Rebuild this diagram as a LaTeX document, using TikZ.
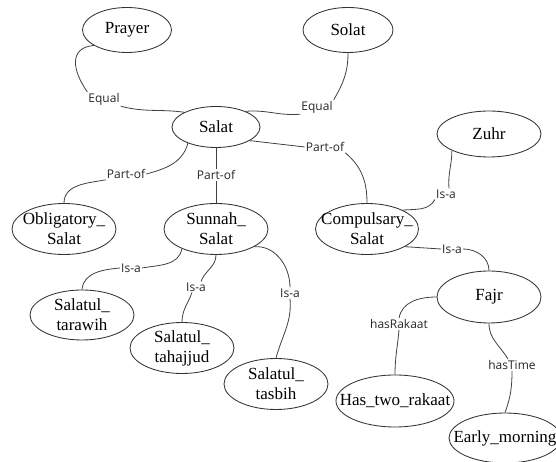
\documentclass[tikz,border=0pt]{standalone}
\usepackage{fontspec}
\setmainfont{Liberation Serif}
\newfontfamily\relfont{Open Sans}
\usetikzlibrary{shapes.geometric}

\begin{document}
\begin{tikzpicture}[x=1pt,y=1pt,
  concept/.style={ellipse,draw=black!80,line width=0.85pt,inner sep=-20pt,
    minimum width=104pt,minimum height=51pt,align=center,
    font=\fontsize{17}{20}\selectfont},
  rel/.style={inner sep=1pt,font=\relfont\fontsize{12}{13}\selectfont,text=black!85},
  link/.style={draw=black!75,line width=0.8pt}]
\useasboundingbox (0,0) rectangle (556,462);
% concepts
\node[concept,minimum width=89pt,minimum height=45pt] (prayer) at (127,432) {Prayer};
\node[concept,minimum width=90pt,minimum height=45pt] (solat) at (348,432) {Solat};
\node[concept,minimum width=88pt,minimum height=41pt] (salat) at (216,335) {Salat};
\node[concept,minimum height=46pt] (zuhr) at (489,328) {Zuhr};
\node[concept] (oblig) at (64,233) {Obligatory\_\\Salat};
\node[concept] (sunnah) at (216,233) {Sunnah\_\\Salat};
\node[concept,minimum width=103pt] (compul) at (367,233) {Compulsary\_\\Salat};
\node[concept,minimum height=52pt] (fajr) at (489,165) {Fajr};
\node[concept,minimum height=50pt] (tarawih) at (82,147) {Salatul\_\\tarawih};
\node[concept] (tahajjud) at (182,114) {Salatul\_\\tahajjud};
\node[concept] (tasbih) at (276,78) {Salatul\_\\tasbih};
\node[concept,minimum width=118pt,minimum height=52pt] (hastwo) at (395,61) {Has\_two\_rakaat};
\node[concept,minimum width=112pt,minimum height=50pt] (early) at (505,24) {Early\_morning};
% relation labels
\node[rel] (eqa) at (104,363) {Equal};
\node[rel] (eqb) at (317,355) {Equal};
\node[rel] (pofa) at (325,315) {Part-of};
\node[rel] (pofb) at (126,288) {Part-of};
\node[rel] (pofc) at (216,287) {Part-of};
\node[rel] (isaa) at (446,268) {Is-a};
\node[rel] (isab) at (452,213) {Is-a};
\node[rel] (isac) at (131,194) {Is-a};
\node[rel] (isad) at (196,175) {Is-a};
\node[rel] (isae) at (290,169) {Is-a};
\node[rel] (hasr) at (399,138) {hasRakaat};
\node[rel] (hast) at (512,97) {hasTime};
% links
\draw[link] (prayer.205) to[out=185,in=125,looseness=1.4] (eqa.north west);
\draw[link] (eqa.south east) to[out=-15,in=172] (salat.155);
\draw[link] (solat.south) to[out=-90,in=60] (eqb.north east);
\draw[link] (eqb.south west) to[out=185,in=5] (salat.28);
\draw[link] (salat.-22) -- (pofa.west);
\draw[link] (pofa.south east) to[out=-40,in=90] (compul.north);
\draw[link] (salat.210) to[out=-105,in=15] (pofb.east);
\draw[link] (pofb.south west) to[out=190,in=90] (oblig.north);
\draw[link] (salat.south) -- (pofc.north);
\draw[link] (pofc.south) -- (sunnah.north);
\draw[link] (sunnah.210) to[out=-100,in=10] (isac.east);
\draw[link] (isac.west) to[out=185,in=85] (tarawih.north);
\draw[link] (sunnah.south) to[out=-90,in=70] ([xshift=5pt]isad.north);
\draw[link] ([xshift=-4pt]isad.south) to[out=-110,in=90] (tahajjud.north);
\draw[link] (sunnah.-25) to[out=5,in=90] (isae.north);
\draw[link] (isae.south) to[out=-85,in=75] (tasbih.north);
\draw[link] (zuhr.204) to[out=-90,in=95] ([xshift=3pt]isaa.north);
\draw[link] (isaa.south west) to[out=-120,in=5] (compul.28);
\draw[link] (compul.-25) -- (isab.west);
\draw[link] (isab.east) to[out=0,in=90] (fajr.north);
\draw[link] (fajr.west) to[out=180,in=80] (hasr.north);
\draw[link] (hasr.south) to[out=-95,in=90] (hastwo.north);
\draw[link] (fajr.south) to[out=-90,in=120] ([xshift=-4pt]hast.north);
\draw[link] (hast.south) to[out=-90,in=70] (early.north);
\end{tikzpicture}
\end{document}
